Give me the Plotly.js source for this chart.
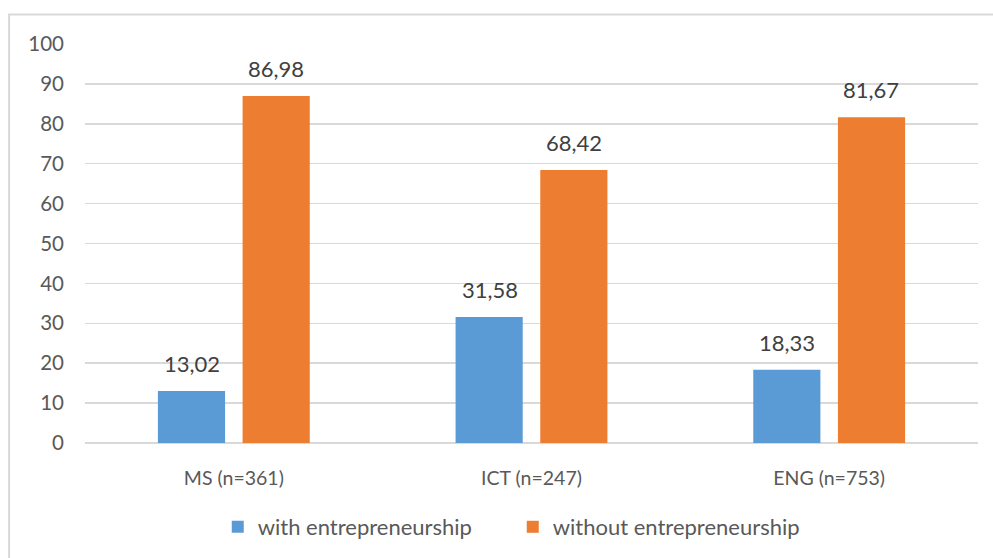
<!DOCTYPE html>
<html>
<head>
<meta charset="utf-8">
<script src="https://cdn.plot.ly/plotly-3.0.1.min.js"></script>
<style>
html,body{margin:0;padding:0;background:#fff;}
#chart{width:993px;height:558px;}
</style>
</head>
<body>
<div id="chart"></div>
<script>
const categories = ["MS (n=361)", "ICT (n=247)", "ENG (n=753)"];
const withEntrepreneurship = [13.02, 31.58, 18.33];
const withoutEntrepreneurship = [86.98, 68.42, 81.67];
const seriesNames = ["with entrepreneurship", "without entrepreneurship"];
const yTicks = [0, 10, 20, 30, 40, 50, 60, 70, 80, 90, 100];

const fmt = v => v.toFixed(2).replace('.', ',');
const FONT = 'Lato, "Open Sans", sans-serif';

const traces = [
  {
    type: 'bar', name: seriesNames[0], x: categories, y: withEntrepreneurship,
    marker: {color: '#5B9BD5'}, hoverinfo: 'none'
  },
  {
    type: 'bar', name: seriesNames[1], x: categories, y: withoutEntrepreneurship,
    marker: {color: '#ED7D31'}, hoverinfo: 'none'
  }
];

// value labels above each bar, placed through the axis scales
const annotations = [];
[withEntrepreneurship, withoutEntrepreneurship].forEach((series, si) => {
  series.forEach((v, i) => {
    annotations.push({
      x: categories[i], y: v, xref: 'x', yref: 'y',
      text: fmt(v), showarrow: false, yanchor: 'bottom',
      xshift: si === 0 ? -42 : 42, yshift: 12,
      font: {family: FONT, size: 22, color: '#404040'}
    });
  });
});

const layout = {
  width: 993, height: 558,
  margin: {l: 85, r: 15, t: 44, b: 115},
  paper_bgcolor: '#fff', plot_bgcolor: '#fff',
  font: {family: FONT, size: 20, color: '#595959'},
  barmode: 'group', bargap: 0.431, bargroupgap: 0.207,
  xaxis: {
    type: 'category', showgrid: false, zeroline: false, showline: false, automargin: false,
    ticks: '', ticklabelstandoff: 21, tickfont: {family: FONT, size: 19.5, color: '#595959'}
  },
  yaxis: {
    range: [0, 100], tickvals: yTicks, ticktext: yTicks.map(String), automargin: false,
    showgrid: true, gridcolor: '#d9d9d9', gridwidth: 1.5,
    zeroline: true, zerolinecolor: '#d9d9d9', zerolinewidth: 1.5,
    showline: false, ticks: '', ticklabelstandoff: 20,
    tickfont: {family: FONT, size: 20.5, color: '#595959'}
  },
  legend: {
    orientation: 'h', x: 0.479, xanchor: 'center',
    yref: 'container', y: 0.0556, yanchor: 'middle',
    font: {family: FONT, size: 22, color: '#595959'}, itemwidth: 30, traceorder: 'normal',
    entrywidth: 250
  },
  annotations: annotations,
  shapes: [
    {type: 'rect', xref: 'paper', yref: 'paper', x0: -0.085, x1: 1.2, y0: -0.5, y1: 1.074,
     line: {color: '#d9d9d9', width: 2}, fillcolor: 'rgba(0,0,0,0)', layer: 'below'}
  ],
  showlegend: true
};

Plotly.newPlot('chart', traces, layout, {displayModeBar: false, staticPlot: true});
</script>
</body>
</html>
